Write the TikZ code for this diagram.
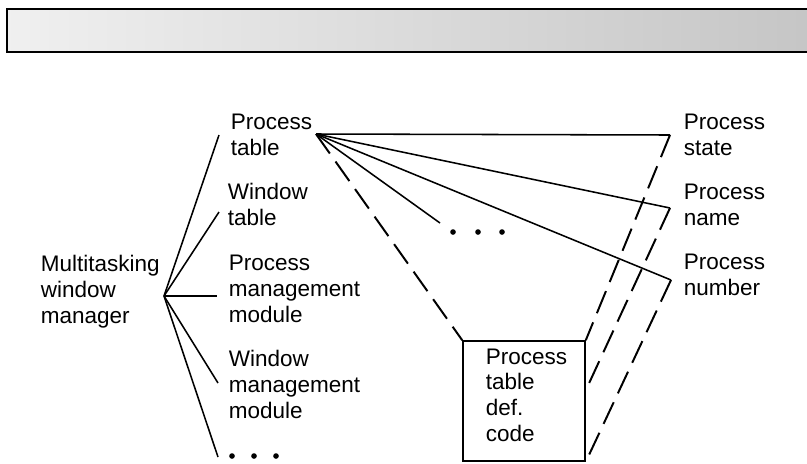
\documentclass[tikz,border=0pt]{standalone}
\usepackage{fontspec}
\setmainfont{Liberation Sans}

\begin{document}
\begin{tikzpicture}[x=0.025cm,y=-0.025cm,line width=1.1pt,
  lbl/.style={anchor=base west,align=left,inner sep=0pt,font=\fontsize{16}{18.2}\selectfont},
  dashline/.style={line width=1.4pt,dash pattern=on 17pt off 7pt},
  dotmark/.style={circle,fill,inner sep=0pt,minimum size=4pt}]
\useasboundingbox (0,0) rectangle (807,463);
% header bar
\draw[line width=1.6pt,left color=gray!12,right color=gray!45] (7,9) rectangle (812,52);
% labels (placed by the baseline of their last line)
\node[lbl] (mwm) at (40,323) {Multitasking\\window\\manager};
\node[lbl] (ptab) at (230,155) {Process\\table};
\node[lbl] (wtab) at (227,225) {Window\\table};
\node[lbl] (pmm) at (228,322) {Process\\management\\module};
\node[lbl] (wmm) at (228,418) {Window\\management\\module};
\node[dotmark] (ld1) at (232,456) {};
\node[dotmark] (ld2) at (254,456) {};
\node[dotmark] (ld3) at (276,456) {};
\node[lbl] (pstate) at (683,155) {Process\\state};
\node[lbl] (pname) at (683,225) {Process\\name};
\node[lbl] (pnum) at (683,295) {Process\\number};
\node[dotmark] (md1) at (453,232) {};
\node[dotmark] (md2) at (478,232) {};
\node[dotmark] (md3) at (502,232) {};
% definition box
\node[draw,inner sep=0pt,minimum width=3.05cm,minimum height=3cm] (pdef) at (524,401) {};
\node[lbl] (pdeftxt) at (485,441) {Process\\table\\def.\\code};
% connector ends
\coordinate (hub) at (164,296);
\coordinate (ptab-in) at (219,135);
\coordinate (wtab-in) at (219,212);
\coordinate (pmm-in) at (217,296);
\coordinate (wmm-in) at (218,383);
\coordinate (ld-in) at (218,457);
\coordinate (apex) at (316,134);
\coordinate (md-in) at (440,223);
\coordinate (pstate-in) at (670,135);
\coordinate (pname-in) at (670,208);
\coordinate (pnum-in) at (671,280);
\coordinate (pdef-mid) at (585,392);
% tree on the left
\foreach \t in {ptab-in,wtab-in,pmm-in,wmm-in,ld-in}
  \draw (hub)--(\t);
% fan from the process table
\foreach \t in {pstate-in,pname-in,pnum-in,md-in}
  \draw (apex)--(\t);
\draw[dashline] (apex)--(pdef.north west);
\draw[dashline] (pstate-in)--(pdef.north east);
\draw[dashline] (pname-in)--(pdef-mid);
\draw[dashline] (pnum-in)--(pdef.south east);
\end{tikzpicture}
\end{document}
